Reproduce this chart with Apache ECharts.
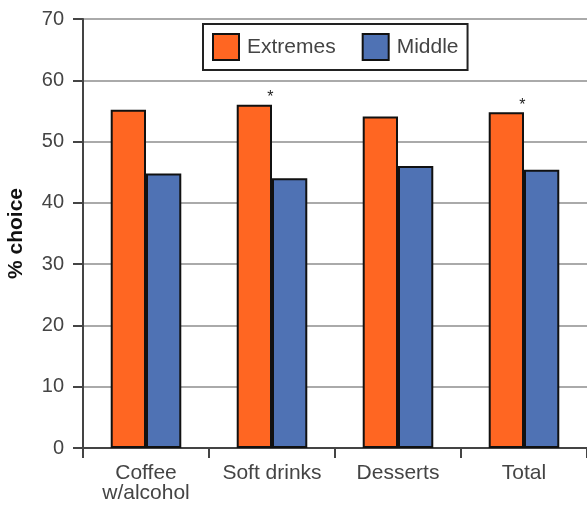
<!DOCTYPE html>
<html>
<head>
<meta charset="utf-8">
<script src="https://cdn.jsdelivr.net/npm/echarts@6/dist/echarts.min.js"></script>
<style>
  html, body { margin: 0; padding: 0; background: #fff; }
  #chart { width: 587px; height: 509px; }
</style>
</head>
<body>
<div id="chart"></div>
<script>
// Share of choices for extreme vs. middle options, by product category
const categories = ['Coffee\nw/alcohol', 'Soft drinks', 'Desserts', 'Total'];
const extremesValues = [55.2, 56.0, 54.1, 54.8];
const middleValues = [44.8, 44.0, 46.0, 45.4];
// Categories where the difference is significant (marked with an asterisk)
const starred = [false, true, false, true];

const FONT = '"Liberation Sans", Arial, Helvetica, sans-serif';

const chart = echarts.init(document.getElementById('chart'), null, { renderer: 'canvas' });

const extremesData = extremesValues.map((v, i) => ({
  value: v,
  label: {
    show: starred[i],
    formatter: '*',
    position: 'top',
    distance: 0,
    offset: [16, 1],
    fontSize: 16,
    color: '#222',
    fontFamily: FONT
  }
}));

chart.setOption({
  animation: false,
  backgroundColor: '#fff',
  textStyle: { fontFamily: FONT },
  grid: { left: 83, right: 0, top: 19, bottom: 61, containLabel: false, outerBoundsMode: 'none' },
  legend: {
    left: 203,
    top: 24,
    padding: [9, 9, 9, 9],
    itemWidth: 26,
    itemHeight: 26,
    itemGap: 26,
    icon: 'rect',
    borderColor: '#222',
    borderWidth: 2,
    backgroundColor: '#fff',
    textStyle: { fontSize: 21, color: '#444', fontFamily: FONT, padding: [0, 0, 0, 3] },
    data: ['Extremes', 'Middle']
  },
  xAxis: {
    type: 'category',
    data: categories,
    boundaryGap: true,
    axisLine: { lineStyle: { color: '#444', width: 2 } },
    axisTick: { show: true, alignWithLabel: false, length: 10, lineStyle: { color: '#444', width: 2 } },
    axisLabel: { fontSize: 21, color: '#444', margin: 15, lineHeight: 20, fontFamily: FONT, interval: 0 }
  },
  yAxis: {
    type: 'value',
    min: 0,
    max: 70,
    interval: 10,
    name: '% choice',
    nameLocation: 'middle',
    nameGap: 56,
    nameTextStyle: { fontSize: 21, fontWeight: 'bold', color: '#111', fontFamily: FONT },
    axisLine: { show: true, lineStyle: { color: '#444', width: 2 } },
    axisTick: { show: true, length: 10, lineStyle: { color: '#444', width: 2 } },
    axisLabel: { fontSize: 20, color: '#444', margin: 19, fontFamily: FONT },
    splitLine: { show: true, lineStyle: { color: '#aaa', width: 2 } }
  },
  series: [
    {
      name: 'Extremes',
      type: 'bar',
      data: extremesData,
      barGap: '0%',
      barCategoryGap: '44%',
      itemStyle: { color: '#FF6622', borderColor: '#111', borderWidth: 2 }
    },
    {
      name: 'Middle',
      type: 'bar',
      data: middleValues,
      barGap: '0%',
      barCategoryGap: '44%',
      itemStyle: { color: '#4F72B4', borderColor: '#111', borderWidth: 2 }
    }
  ]
});
</script>
</body>
</html>
